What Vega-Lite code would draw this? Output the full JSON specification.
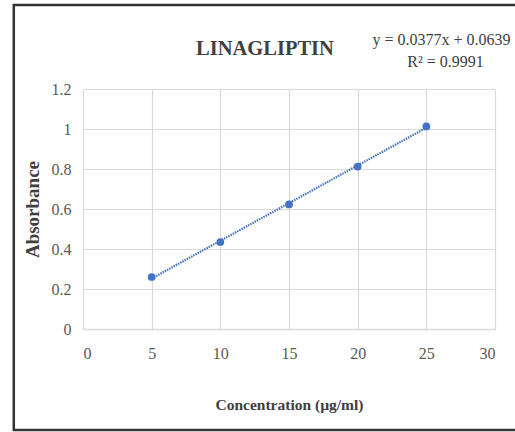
{
  "$schema": "https://vega.github.io/schema/vega-lite/v6.json",
  "autosize": {"type": "none"},
  "padding": {"left": 83, "top": 89, "right": 20, "bottom": 103},
  "width": 412,
  "height": 240,
  "background": "white",
  "config": {
    "view": {"stroke": null},
    "font": "Liberation Serif"
  },
  "layer": [
    {
      "data": {
        "values": [
          {"conc": 5, "abs": 0.26, "trend": 0.2524},
          {"conc": 10, "abs": 0.435, "trend": 0.4409},
          {"conc": 15, "abs": 0.623, "trend": 0.6294},
          {"conc": 20, "abs": 0.812, "trend": 0.8179},
          {"conc": 25, "abs": 1.013, "trend": 1.0064}
        ]
      },
      "encoding": {
        "x": {
          "field": "conc", "type": "quantitative",
          "scale": {"domain": [0, 30], "nice": false, "zero": false},
          "axis": {
            "values": [0, 5, 10, 15, 20, 25, 30],
            "title": "Concentration (µg/ml)",
            "titleFont": "Liberation Serif",
            "titleFontSize": 15.5,
            "titleFontWeight": "bold",
            "titleColor": "#404040",
            "titlePadding": 36,
            "labelFont": "Liberation Serif",
            "labelFontSize": 16,
            "labelColor": "#595959",
            "labelPadding": 16,
            "labelOverlap": false,
            "ticks": false,
            "domainColor": "#d9d9d9",
            "domainWidth": 1.5,
            "grid": true,
            "gridColor": "#d9d9d9",
            "gridWidth": 1.2
          }
        },
        "y": {
          "field": "trend", "type": "quantitative",
          "scale": {"domain": [0, 1.2], "nice": false, "zero": false},
          "axis": {
            "values": [0, 0.2, 0.4, 0.6, 0.8, 1, 1.2],
            "title": "Absorbance",
            "titleFont": "Liberation Serif",
            "titleFontSize": 19,
            "titleFontWeight": "bold",
            "titleColor": "#404040",
            "titlePadding": 9,
            "labelFont": "Liberation Serif",
            "labelFontSize": 16,
            "labelColor": "#595959",
            "labelPadding": 12,
            "labelOverlap": false,
            "labelExpr": "datum.value == 0 ? '0' : datum.value == 1 ? '1' : format(datum.value, '.1f')",
            "ticks": false,
            "domain": false,
            "grid": true,
            "gridColor": "#d9d9d9",
            "gridWidth": 1.2
          }
        }
      },
      "layer": [
        {
          "mark": {"type": "line", "color": "#4472C4", "strokeWidth": 2.2, "strokeDash": [1.5, 1]}
        },
        {
          "mark": {"type": "point", "filled": true, "color": "#4472C4", "size": 60, "opacity": 1},
          "encoding": {
            "y": {"field": "abs", "type": "quantitative"}
          }
        }
      ]
    },
    {
      "data": {"values": [{"t": "LINAGLIPTIN"}]},
      "mark": {"type": "text", "font": "Liberation Serif", "fontSize": 20.5, "fontWeight": "bold", "color": "#404040", "align": "center", "baseline": "alphabetic", "clip": false},
      "encoding": {
        "x": {"datum": 13.25, "type": "quantitative"},
        "y": {"datum": 1.37, "type": "quantitative", "axis": {"values": [0, 0.2, 0.4, 0.6, 0.8, 1, 1.2]}},
        "text": {"field": "t"}
      }
    },
    {
      "data": {"values": [{"t": "y = 0.0377x + 0.0639"}]},
      "mark": {"type": "text", "font": "Liberation Serif", "fontSize": 16, "fontWeight": "normal", "color": "#404040", "align": "center", "baseline": "alphabetic", "clip": false},
      "encoding": {
        "x": {"datum": 26.1, "type": "quantitative"},
        "y": {"datum": 1.42, "type": "quantitative", "axis": {"values": [0, 0.2, 0.4, 0.6, 0.8, 1, 1.2]}},
        "text": {"field": "t"}
      }
    },
    {
      "data": {"values": [{"t": "R² = 0.9991"}]},
      "mark": {"type": "text", "font": "Liberation Serif", "fontSize": 16, "fontWeight": "normal", "color": "#404040", "align": "center", "baseline": "alphabetic", "clip": false},
      "encoding": {
        "x": {"datum": 26.4, "type": "quantitative"},
        "y": {"datum": 1.31, "type": "quantitative", "axis": {"values": [0, 0.2, 0.4, 0.6, 0.8, 1, 1.2]}},
        "text": {"field": "t"}
      }
    },
    {
      "data": {"values": [{}]},
      "mark": {"type": "rect", "fill": null, "stroke": "#333333", "strokeWidth": 2.5, "clip": false},
      "encoding": {
        "x": {"datum": -5.04, "type": "quantitative"},
        "x2": {"datum": 32.5},
        "y": {"datum": 1.62, "type": "quantitative", "axis": {"values": [0, 0.2, 0.4, 0.6, 0.8, 1, 1.2]}},
        "y2": {"datum": -0.505}
      }
    }
  ]
}
